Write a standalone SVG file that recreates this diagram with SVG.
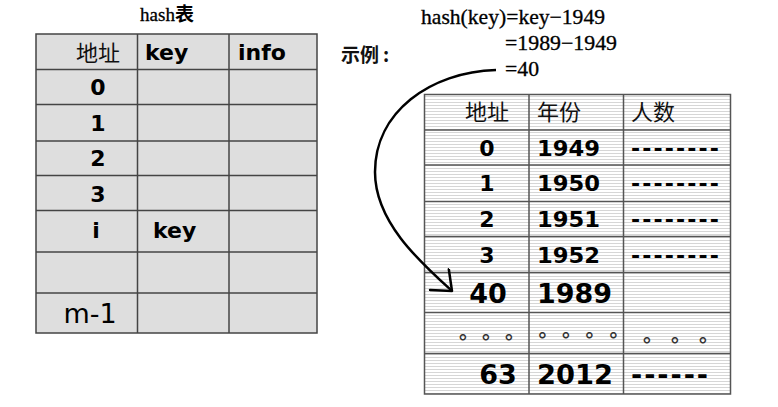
<svg xmlns="http://www.w3.org/2000/svg" width="778" height="407" viewBox="0 0 778 407">
<style>
.serif{font-family:"Liberation Serif","Noto Serif CJK SC","Noto Sans CJK SC",serif;fill:#000}
.b{font-family:"DejaVu Sans",Verdana,sans-serif;font-weight:bold;fill:#000}
.n{font-family:"DejaVu Sans",Verdana,sans-serif;fill:#000}
.cjk{font-family:"Noto Sans CJK SC",sans-serif;fill:#111}
.grid{stroke:#444;stroke-width:1.5;fill:none}
.grid2{stroke:#555;stroke-width:1.5;fill:none}
.dot{font-family:"Noto Sans CJK SC",sans-serif;font-weight:bold;fill:#333}
</style>
<defs>
<pattern id="stripe" width="6" height="3" patternUnits="userSpaceOnUse">
<rect width="6" height="3" fill="#ffffff"/>
<line x1="0" y1="0.5" x2="6" y2="0.5" stroke="#d6d6d6" stroke-width="1"/>
</pattern>
<marker id="arr" markerWidth="30" markerHeight="30" refX="0" refY="0" viewBox="-20 -15 25 30" orient="auto" markerUnits="userSpaceOnUse">
<path d="M-17,-14 L0,0 L-17,14" fill="none" stroke="#000" stroke-width="2.5" stroke-linecap="round" stroke-linejoin="round"/>
</marker>
</defs>

<g id="title-left">
<text class="serif" x="167" y="21" font-size="19" text-anchor="middle" stroke="#000" stroke-width="0.3">hash<tspan font-family="Noto Sans CJK SC,sans-serif" font-weight="bold" stroke-width="0">表</tspan></text>
</g>

<g id="hash-table">
<rect x="36" y="34" width="281" height="299" fill="#dedede"/>
<g class="grid">
<rect x="36" y="34" width="281" height="299"/>
<line x1="137.5" y1="34" x2="137.5" y2="333"/>
<line x1="229" y1="34" x2="229" y2="333"/>
<line x1="36" y1="69.5" x2="317" y2="69.5"/>
<line x1="36" y1="104.5" x2="317" y2="104.5"/>
<line x1="36" y1="141" x2="317" y2="141"/>
<line x1="36" y1="175.5" x2="317" y2="175.5"/>
<line x1="36" y1="210.5" x2="317" y2="210.5"/>
<line x1="36" y1="252" x2="317" y2="252"/>
<line x1="36" y1="293" x2="317" y2="293"/>
</g>
<text class="cjk" x="98" y="61" font-size="22" text-anchor="middle">地址</text>
<text class="b" x="145" y="60" font-size="22">key</text>
<text class="b" x="238" y="60" font-size="22">info</text>
<text class="b" x="98" y="95" font-size="22" text-anchor="middle">0</text>
<text class="b" x="98" y="131" font-size="22" text-anchor="middle">1</text>
<text class="b" x="98" y="166" font-size="22" text-anchor="middle">2</text>
<text class="b" x="98" y="201.5" font-size="22" text-anchor="middle">3</text>
<text class="b" x="96" y="238" font-size="22" text-anchor="middle">i</text>
<text class="b" x="153" y="238" font-size="22">key</text>
<text class="n" x="90" y="323" font-size="27" text-anchor="middle">m-1</text>
</g>

<g id="formula">
<text class="serif" x="421" y="24" font-size="21" textLength="184" lengthAdjust="spacingAndGlyphs" stroke="#000" stroke-width="0.3">hash(key)=key−1949</text>
<text class="serif" x="505" y="50" font-size="21" textLength="112" lengthAdjust="spacingAndGlyphs" stroke="#000" stroke-width="0.3">=1989−1949</text>
<text class="serif" x="505" y="76" font-size="21" textLength="34" lengthAdjust="spacingAndGlyphs" stroke="#000" stroke-width="0.3">=40</text>
<text class="cjk" x="341" y="62" font-size="19" font-weight="bold">示例<tspan x="383">:</tspan></text>
</g>

<g id="example-table">
<rect x="424.5" y="94.5" width="306" height="299.5" fill="url(#stripe)"/>
<g class="grid2">
<rect x="424.5" y="94.5" width="306" height="299.5"/>
<line x1="529" y1="94.5" x2="529" y2="394"/>
<line x1="623.5" y1="94.5" x2="623.5" y2="394"/>
<line x1="424.5" y1="130" x2="730.5" y2="130"/>
<line x1="424.5" y1="165" x2="730.5" y2="165"/>
<line x1="424.5" y1="201.5" x2="730.5" y2="201.5"/>
<line x1="424.5" y1="236.5" x2="730.5" y2="236.5"/>
<line x1="424.5" y1="272.5" x2="730.5" y2="272.5"/>
<line x1="424.5" y1="312.5" x2="730.5" y2="312.5"/>
<line x1="424.5" y1="353.5" x2="730.5" y2="353.5"/>
</g>
<text class="cjk" x="487" y="120" font-size="22" text-anchor="middle">地址</text>
<text class="cjk" x="537" y="120" font-size="22">年份</text>
<text class="cjk" x="631" y="120" font-size="22">人数</text>

<text class="b" x="487" y="156" font-size="22" text-anchor="middle">0</text>
<text class="b" x="537" y="156" font-size="22" textLength="63" lengthAdjust="spacingAndGlyphs">1949</text>
<text class="b" x="631" y="156" font-size="22" textLength="88" lengthAdjust="spacing">--------</text>

<text class="b" x="487" y="191" font-size="22" text-anchor="middle">1</text>
<text class="b" x="537" y="191" font-size="22" textLength="63" lengthAdjust="spacingAndGlyphs">1950</text>
<text class="b" x="631" y="191" font-size="22" textLength="88" lengthAdjust="spacing">--------</text>

<text class="b" x="487" y="227" font-size="22" text-anchor="middle">2</text>
<text class="b" x="537" y="227" font-size="22" textLength="63" lengthAdjust="spacingAndGlyphs">1951</text>
<text class="b" x="631" y="227" font-size="22" textLength="88" lengthAdjust="spacing">--------</text>

<text class="b" x="487" y="263" font-size="22" text-anchor="middle">3</text>
<text class="b" x="537" y="263" font-size="22" textLength="63" lengthAdjust="spacingAndGlyphs">1952</text>
<text class="b" x="631" y="263" font-size="22" textLength="88" lengthAdjust="spacing">--------</text>

<text class="b" x="488" y="302.5" font-size="27" text-anchor="middle">40</text>
<text class="b" x="537" y="302.5" font-size="27" textLength="75" lengthAdjust="spacingAndGlyphs">1989</text>

<text class="dot" x="459 482 505" y="339" font-size="20">。。。</text>
<text class="dot" x="538.5 562 585.5 609.5" y="337" font-size="20">。。。。</text>
<text class="dot" x="643 671 699" y="342" font-size="20">。。。</text>

<text class="b" x="498" y="384" font-size="27" text-anchor="middle">63</text>
<text class="b" x="537" y="384" font-size="27" textLength="76" lengthAdjust="spacingAndGlyphs">2012</text>
<text class="b" x="631" y="384" font-size="27" textLength="77" lengthAdjust="spacing">------</text>
</g>

<g id="connectors">
<path d="M496,70 C430,72 375,112 375,172 C375,222 420,262 452,291" fill="none" stroke="#000" stroke-width="2.5" marker-end="url(#arr)"/>
</g>
</svg>
